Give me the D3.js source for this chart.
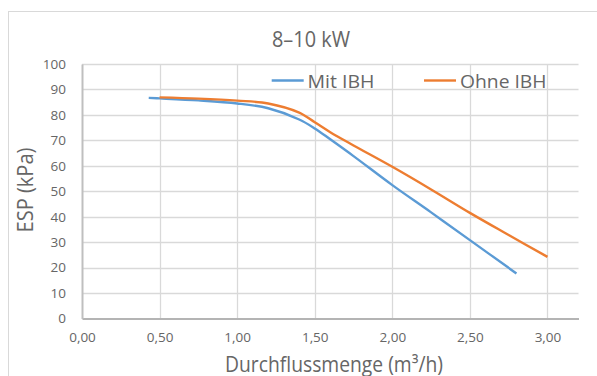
<!DOCTYPE html>
<html>
<head>
<meta charset="utf-8">
<script src="https://cdn.jsdelivr.net/npm/d3@7"></script>
<style>
  html, body { margin: 0; padding: 0; background: #fff; }
  svg { display: block; font-family: "Open Sans", sans-serif; }
</style>
</head>
<body>
<svg id="chart" width="597" height="376"></svg>
<script>
// ---- data ----
const chartTitle = "8–10 kW";
const seriesNames = ["Mit IBH", "Ohne IBH"];
const mitX = [0.43, 0.5, 0.75, 1.0, 1.2, 1.4, 1.5, 1.6, 1.75, 2.0, 2.25, 2.5, 2.8];
const mitY = [86.7, 86.5, 85.7, 84.5, 82.6, 78.2, 74.7, 70.4, 63.8, 52.4, 41.7, 30.8, 17.7];
const ohneX = [0.5, 0.75, 1.0, 1.2, 1.4, 1.5, 1.6, 1.75, 2.0, 2.25, 2.5, 2.75, 3.0];
const ohneY = [86.9, 86.4, 85.6, 84.5, 80.9, 77.1, 73.2, 68.0, 59.6, 50.7, 41.5, 32.8, 24.2];
const xTicks = [0, 0.5, 1.0, 1.5, 2.0, 2.5, 3.0];
const yTicks = [0, 10, 20, 30, 40, 50, 60, 70, 80, 90, 100];
const xTitle = "Durchflussmenge (m³/h)";
const yTitle = "ESP (kPa)";
const colors = ["#5B9BD5", "#ED7D31"];

// ---- layout ----
const svg = d3.select("#chart");
const x = d3.scaleLinear().domain([0, 3.2]).range([82, 578.5]);
const y = d3.scaleLinear().domain([0, 100]).range([318.5, 64]);
const textColor = "#666666";

// chart border
svg.append("rect").attr("x", 8.5).attr("y", 11.5).attr("width", 620).attr("height", 400)
  .attr("fill", "#fff").attr("stroke", "#d9d9d9").attr("stroke-width", 1);

// horizontal gridlines
svg.append("g").selectAll("line").data(yTicks.filter(d => d > 0)).join("line")
  .attr("x1", x(0)).attr("x2", x(3.2))
  .attr("y1", d => Math.round(y(d)) + 0.5).attr("y2", d => Math.round(y(d)) + 0.5)
  .attr("stroke", "#d9d9d9").attr("stroke-width", 1.3);

// vertical gridlines
svg.append("g").selectAll("line").data(xTicks.filter(d => d > 0)).join("line")
  .attr("x1", d => Math.round(x(d)) + 0.5).attr("x2", d => Math.round(x(d)) + 0.5)
  .attr("y1", y(100)).attr("y2", y(0))
  .attr("stroke", "#d9d9d9").attr("stroke-width", 1.3);

// axes
const fmt = d => d3.format(".2f")(d).replace(".", ",");
const xAxis = svg.append("g").attr("transform", `translate(0,${y(0)})`)
  .call(d3.axisBottom(x).tickValues(xTicks).tickFormat(fmt).tickSize(0).tickPadding(14));
xAxis.select(".domain").attr("stroke", "#b4b4b4").attr("stroke-width", 2);
xAxis.selectAll("text").attr("fill", textColor).attr("font-size", 13.5)
  .attr("font-family", "Open Sans, sans-serif");

const yAxis = svg.append("g").attr("transform", `translate(${x(0)},0)`)
  .call(d3.axisLeft(y).tickValues(yTicks).tickSize(0).tickPadding(16));
yAxis.select(".domain").attr("stroke", "#bfbfbf").attr("stroke-width", 2);
yAxis.selectAll("text").attr("fill", textColor).attr("font-size", 13.5)
  .attr("font-family", "Open Sans, sans-serif");

// lines
const line = d3.line().x(d => x(d[0])).y(d => y(d[1])).curve(d3.curveCatmullRom.alpha(0.5));
const series = [d3.zip(mitX, mitY), d3.zip(ohneX, ohneY)];
series.forEach((s, i) => {
  svg.append("path").datum(s).attr("d", line)
    .attr("fill", "none").attr("stroke", colors[i]).attr("stroke-width", 2.4)
    .attr("stroke-linejoin", "round");
});

// title
svg.append("text").attr("x", 311).attr("y", 47).attr("text-anchor", "middle")
  .attr("font-size", 21).attr("fill", textColor)
  .attr("textLength", 78).attr("lengthAdjust", "spacingAndGlyphs").text(chartTitle);

// legend
const legendItems = [
  { lx: 271.7, tx: 307.5, tw: 67 },
  { lx: 424, tx: 460, tw: 86.5 }
];
legendItems.forEach((p, i) => {
  svg.append("line").attr("x1", p.lx).attr("x2", p.lx + 32)
    .attr("y1", 80.5).attr("y2", 80.5)
    .attr("stroke", colors[i]).attr("stroke-width", 2.4);
  svg.append("text").attr("x", p.tx).attr("y", 87.7)
    .attr("font-size", 19).attr("fill", textColor)
    .attr("textLength", p.tw).attr("lengthAdjust", "spacingAndGlyphs").text(seriesNames[i]);
});

// axis titles
svg.append("text").attr("x", 334).attr("y", 371.5).attr("text-anchor", "middle")
  .attr("font-size", 21).attr("fill", textColor)
  .attr("textLength", 218).attr("lengthAdjust", "spacingAndGlyphs").text(xTitle);

svg.append("text").attr("transform", "translate(32.7,190) rotate(-90)")
  .attr("text-anchor", "middle")
  .attr("font-size", 21).attr("fill", textColor)
  .attr("textLength", 85).attr("lengthAdjust", "spacingAndGlyphs").text(yTitle);
</script>
</body>
</html>
